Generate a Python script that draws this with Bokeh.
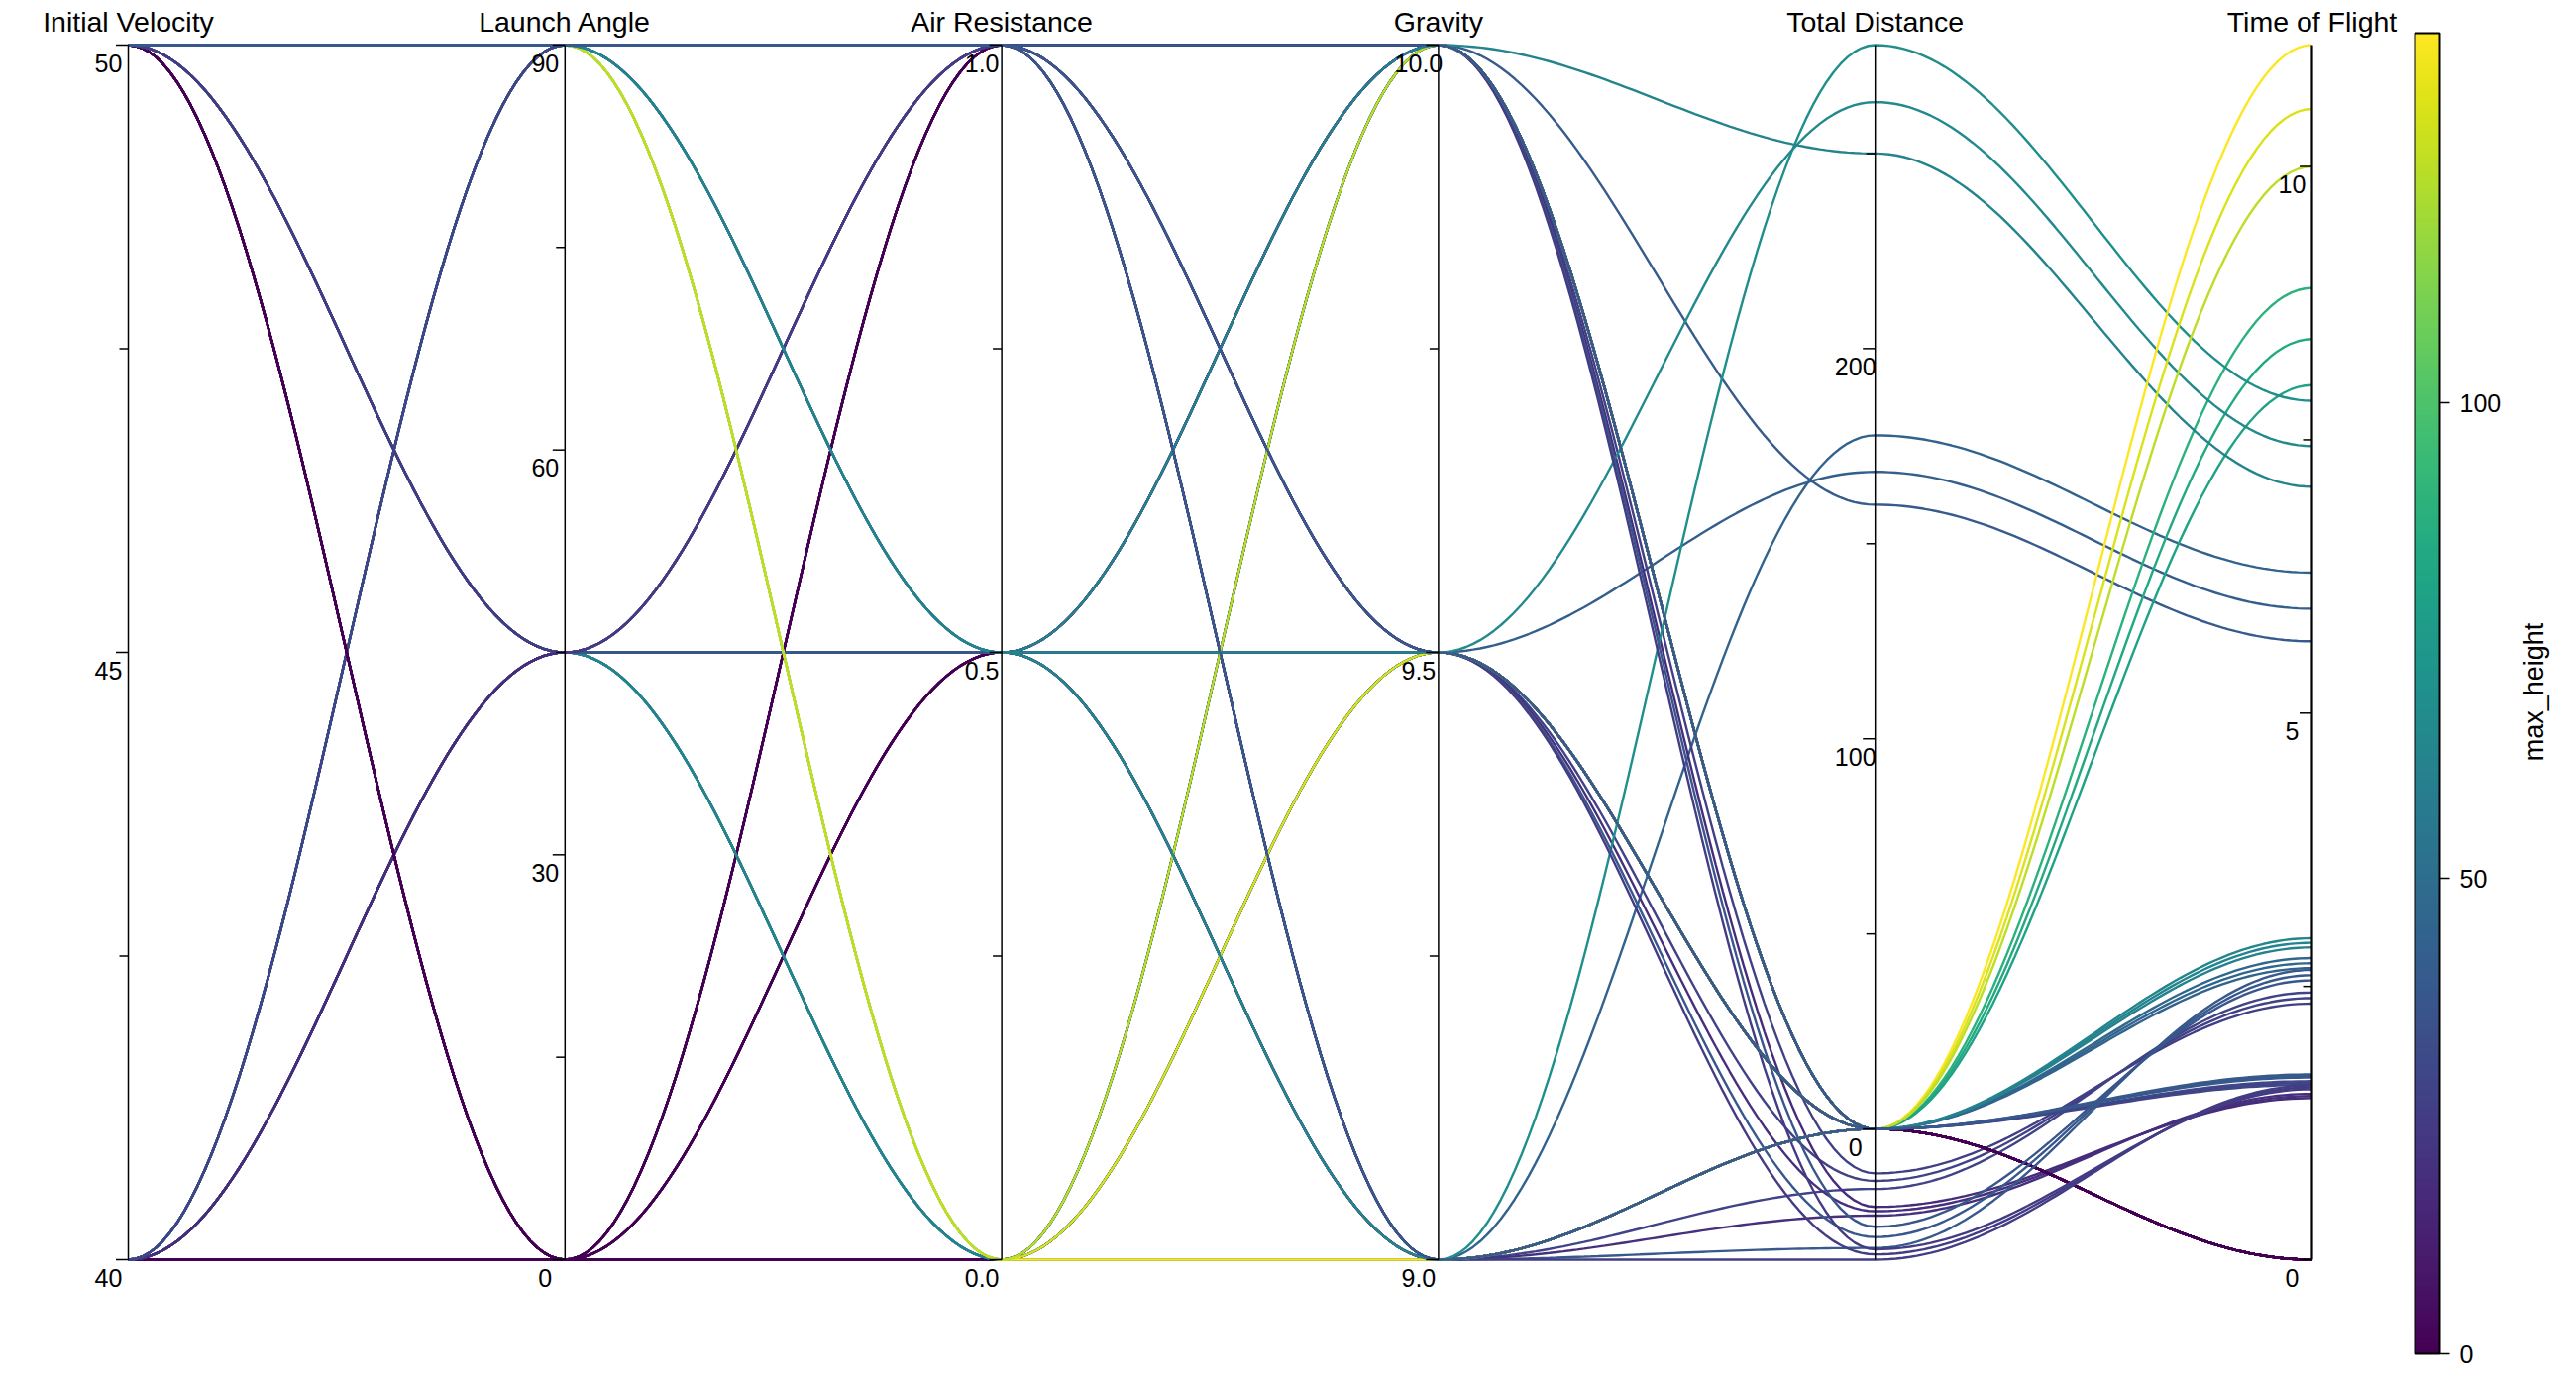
import numpy as np
from bokeh.plotting import figure
from bokeh.models import (Range1d, ColumnDataSource, LinearColorMapper, ColorBar,
                          FixedTicker, Label)
from bokeh.palettes import Viridis256
from bokeh.transform import linear_cmap
from bokeh.embed import file_html
from bokeh.resources import INLINE
from bokeh.core.properties import value

# ---------------- data (one row per simulated launch) ----------------
axis_titles = ["Initial Velocity", "Launch Angle", "Air Resistance",
               "Gravity", "Total Distance", "Time of Flight"]

initial_velocity = [40, 40, 40, 40, 40, 40, 40, 40, 40,
                    40, 40, 40, 40, 40, 40, 40, 40, 40,
                    40, 40, 40, 40, 40, 40, 40, 40, 40,
                    50, 50, 50, 50, 50, 50, 50, 50, 50,
                    50, 50, 50, 50, 50, 50, 50, 50, 50,
                    50, 50, 50, 50, 50, 50, 50, 50, 50]

launch_angle = [0, 0, 0, 0, 0, 0, 0, 0, 0,
                45, 45, 45, 45, 45, 45, 45, 45, 45,
                90, 90, 90, 90, 90, 90, 90, 90, 90,
                0, 0, 0, 0, 0, 0, 0, 0, 0,
                45, 45, 45, 45, 45, 45, 45, 45, 45,
                90, 90, 90, 90, 90, 90, 90, 90, 90]

air_resistance = [0.0, 0.0, 0.0, 0.5, 0.5, 0.5, 1.0, 1.0, 1.0,
                  0.0, 0.0, 0.0, 0.5, 0.5, 0.5, 1.0, 1.0, 1.0,
                  0.0, 0.0, 0.0, 0.5, 0.5, 0.5, 1.0, 1.0, 1.0,
                  0.0, 0.0, 0.0, 0.5, 0.5, 0.5, 1.0, 1.0, 1.0,
                  0.0, 0.0, 0.0, 0.5, 0.5, 0.5, 1.0, 1.0, 1.0,
                  0.0, 0.0, 0.0, 0.5, 0.5, 0.5, 1.0, 1.0, 1.0]

gravity = [9.0, 9.5, 10.0, 9.0, 9.5, 10.0, 9.0, 9.5, 10.0,
           9.0, 9.5, 10.0, 9.0, 9.5, 10.0, 9.0, 9.5, 10.0,
           9.0, 9.5, 10.0, 9.0, 9.5, 10.0, 9.0, 9.5, 10.0,
           9.0, 9.5, 10.0, 9.0, 9.5, 10.0, 9.0, 9.5, 10.0,
           9.0, 9.5, 10.0, 9.0, 9.5, 10.0, 9.0, 9.5, 10.0,
           9.0, 9.5, 10.0, 9.0, 9.5, 10.0, 9.0, 9.5, 10.0]

total_distance = [0, 0, 0, 0, 0, 0, 0, 0, 0,
                  177.78, 168.42, 160.00, -15.36, -13.29, -11.37, -22.20, -21.06, -19.96,
                  0, 0, 0, 0, 0, 0, 0, 0, 0,
                  0, 0, 0, 0, 0, 0, 0, 0, 0,
                  277.78, 263.16, 250.00, -30.48, -27.68, -25.06, -33.49, -32.13, -30.81,
                  0, 0, 0, 0, 0, 0, 0, 0, 0]

time_of_flight = [0, 0, 0, 0, 0, 0, 0, 0, 0,
                  6.285, 5.955, 5.657, 2.444, 2.393, 2.343, 1.517, 1.497, 1.478,
                  8.889, 8.421, 8.000, 2.759, 2.712, 2.667, 1.633, 1.616, 1.600,
                  0, 0, 0, 0, 0, 0, 0, 0, 0,
                  7.857, 7.443, 7.071, 2.651, 2.602, 2.555, 1.594, 1.576, 1.559,
                  11.111, 10.526, 10.000, 2.941, 2.899, 2.857, 1.695, 1.681, 1.667]

max_height = [0, 0, 0, 0, 0, 0, 0, 0, 0,
              44.44, 42.11, 40.00, 27.85, 27.04, 26.27, 18.87, 18.51, 18.17,
              88.89, 84.21, 80.00, 46.61, 45.50, 44.44, 29.65, 29.22, 28.80,
              0, 0, 0, 0, 0, 0, 0, 0, 0,
              69.44, 65.79, 62.50, 38.95, 37.96, 37.00, 25.32, 24.92, 24.52,
              138.89, 131.58, 125.00, 63.80, 62.49, 61.22, 39.14, 38.66, 38.19]

major_ticks = [[40, 45, 50], [0, 30, 60, 90], [0.0, 0.5, 1.0],
               [9.0, 9.5, 10.0], [0, 100, 200], [0, 5, 10]]
major_labels = [["40", "45", "50"], ["0", "30", "60", "90"], ["0.0", "0.5", "1.0"],
                ["9.0", "9.5", "10.0"], ["0", "100", "200"], ["0", "5", "10"]]
minor_ticks = [[42.5, 47.5], [15, 45, 75], [0.25, 0.75],
               [9.25, 9.75], [50, 150, 250], [2.5, 7.5]]
colorbar_ticks = [0, 50, 100]

# ---------------- layout ----------------
FIG_W, FIG_H = 2584, 1384
PX_X = 440.8          # pixels between neighbouring parallel axes
PX_Y = 1226.0         # pixel height of each parallel axis
LEFT_PAD, BOTTOM_PAD = 129.0, 113.0
X0 = -LEFT_PAD / PX_X
Y0 = -BOTTOM_PAD / PX_Y
FONT = value("Liberation Sans")

p = figure(width=FIG_W, height=FIG_H,
           x_range=Range1d(X0, X0 + FIG_W / PX_X),
           y_range=Range1d(Y0, Y0 + FIG_H / PX_Y),
           x_axis_location=None, y_axis_location=None,
           toolbar_location=None, output_backend="svg", min_border=0)
p.grid.visible = False
p.outline_line_color = None
p.background_fill_color = "white"
p.border_fill_color = "white"

columns = [initial_velocity, launch_angle, air_resistance, gravity,
           total_distance, time_of_flight]
lo = [min(c) for c in columns]
hi = [max(c) for c in columns]


def norm(k, v):
    return (v - lo[k]) / (hi[k] - lo[k])


# smooth curves between neighbouring axes (flat where they meet an axis)
t = np.linspace(0.0, 1.0, 64)
ease = (1.0 - np.cos(np.pi * t)) / 2.0
xs, ys = [], []
for r in range(len(max_height)):
    xr, yr = [], []
    for k in range(len(columns) - 1):
        a, b = norm(k, columns[k][r]), norm(k + 1, columns[k + 1][r])
        tt = t if k == 0 else t[1:]
        ee = ease if k == 0 else ease[1:]
        xr.extend((k + tt).tolist())
        yr.extend((a + (b - a) * ee).tolist())
    xs.append(xr)
    ys.append(yr)

hmax = max(max_height)
src = ColumnDataSource(dict(xs=xs, ys=ys, max_height=max_height))
p.multi_line("xs", "ys", source=src,
             line_color=linear_cmap("max_height", Viridis256, 0, hmax),
             line_width=2.4)

# ---------------- parallel axes ----------------
n_ax = len(columns)
p.segment(x0=list(range(n_ax)), y0=[0] * n_ax, x1=list(range(n_ax)), y1=[1] * n_ax,
          line_color="black", line_width=[1.5] * (n_ax - 1) + [2.2])

MAJ_LEN = 12.5 / PX_X
MIN_LEN = 9.0 / PX_X
tx0, tx1, ty = [], [], []
for k in range(n_ax):
    for v in major_ticks[k]:
        tx0.append(k - MAJ_LEN); tx1.append(k); ty.append(norm(k, v))
    for v in minor_ticks[k]:
        tx0.append(k - MIN_LEN); tx1.append(k); ty.append(norm(k, v))
p.segment(x0=tx0, y0=ty, x1=tx1, y1=ty, line_color="black", line_width=1.5)

lx, ly, lt = [], [], []
for k in range(n_ax):
    for v, s in zip(major_ticks[k], major_labels[k]):
        lx.append(k); ly.append(norm(k, v)); lt.append(s)
p.text(x=lx, y=ly, text=lt, x_offset=-20, y_offset=18,
       text_align="center", text_baseline="middle",
       text_font=FONT, text_font_size="25px", text_color="black")

p.text(x=list(range(n_ax)), y=[1] * n_ax, text=axis_titles, y_offset=-24,
       text_align="center", text_baseline="alphabetic",
       text_font=FONT, text_font_size="28.5px", text_color="black")

# ---------------- colour bar ----------------
mapper = LinearColorMapper(palette=Viridis256, low=0, high=hmax)
cb = ColorBar(color_mapper=mapper, location=(2437, 18), width=25, height=1333,
              padding=0, margin=0,
              ticker=FixedTicker(ticks=colorbar_ticks),
              major_label_text_font_size="25px",
              major_label_text_font="Liberation Sans",
              major_label_text_color="black",
              major_tick_out=10, major_tick_in=0,
              major_tick_line_color="black", major_tick_line_width=1.5,
              minor_tick_line_color=None,
              bar_line_color="black", bar_line_width=2,
              label_standoff=10,
              background_fill_color=None, border_line_color=None)
p.add_layout(cb)

p.add_layout(Label(x=2557, y=FIG_H - 698, x_units="screen", y_units="screen",
                   text="max_height", angle=np.pi / 2, text_align="center",
                   text_baseline="middle", text_font="Liberation Sans",
                   text_font_size="27px", text_color="black"))

open("out.html", "w").write(file_html(p, INLINE))
